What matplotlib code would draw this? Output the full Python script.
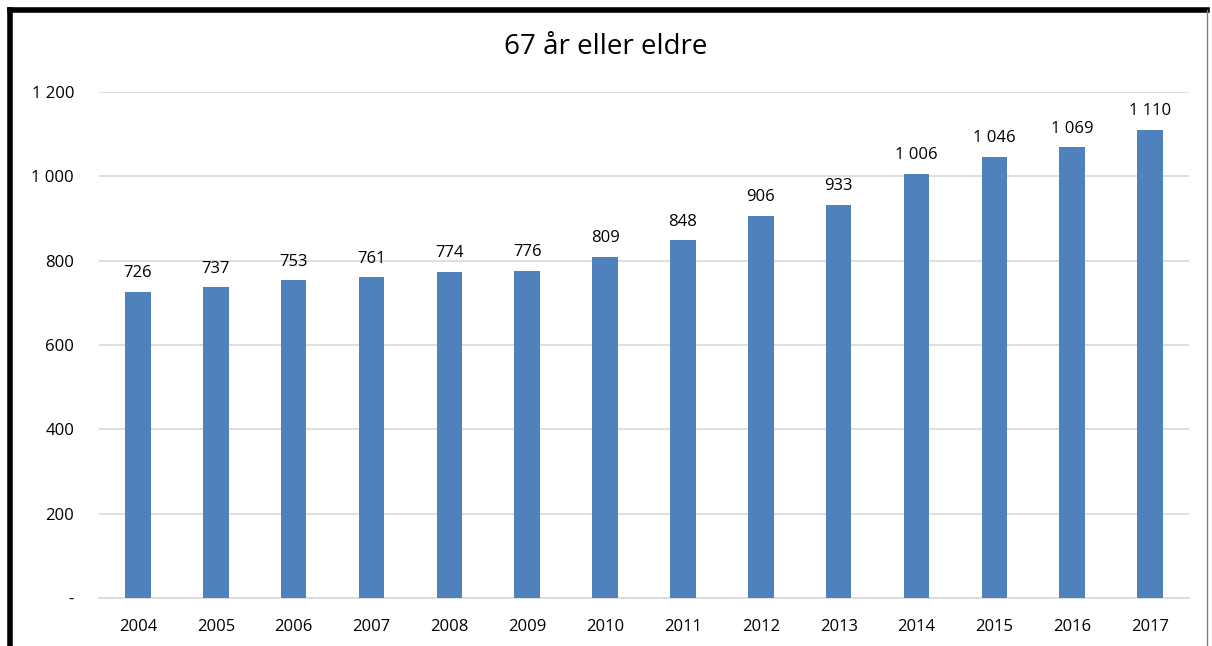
import numpy as np
import matplotlib.pyplot as plt
from matplotlib.lines import Line2D

years = ['2004', '2005', '2006', '2007', '2008', '2009', '2010',
         '2011', '2012', '2013', '2014', '2015', '2016', '2017']
values = [726, 737, 753, 761, 774, 776, 809, 848, 906, 933, 1006, 1046, 1069, 1110]
yticks = [0, 200, 400, 600, 800, 1000, 1200]
ytick_labels = ['-', '200', '400', '600', '800', '1 000', '1 200']

plt.rcParams['font.family'] = ['Open Sans', 'DejaVu Sans']

W, H = 1212, 646
fig = plt.figure(figsize=(W / 100, H / 100), dpi=100)
ax = fig.add_axes([99 / W, 1 - 598 / H, (1189 - 99) / W, (598 - 92) / H])

x = np.arange(len(years))
ax.bar(x, values, width=0.33, color='#4F81BD', zorder=3)
for xi, v in zip(x, values):
    ax.text(xi, v + 25, f'{v:,}'.replace(',', ' '), ha='center', va='bottom',
            fontsize=12, color='#000000', clip_on=False)

ax.set_xlim(-0.5, len(years) - 0.5)
ax.set_ylim(0, 1200)
ax.set_xticks(x)
ax.set_xticklabels(years, fontsize=12)
ax.set_yticks(yticks)
ax.set_yticklabels(ytick_labels, fontsize=12)
ax.tick_params(length=0, pad=18, axis='y')
ax.tick_params(length=0, pad=15, axis='x')
ax.grid(axis='y', color='#D9D9D9', linewidth=1.2, zorder=0)
for s in ['top', 'right', 'left']:
    ax.spines[s].set_visible(False)
ax.spines['bottom'].set_color('#D9D9D9')
ax.spines['bottom'].set_linewidth(1.2)

fig.text(0.5, 1 - 47 / H, '67 år eller eldre', ha='center', va='center', fontsize=20)

# frame around the chart
fig.add_artist(Line2D([9.5 / W, 1207 / W], [1 - 9.5 / H, 1 - 9.5 / H], color='black', linewidth=4, transform=fig.transFigure))
fig.add_artist(Line2D([9.5 / W, 9.5 / W], [0, 1 - 9.5 / H], color='black', linewidth=4, transform=fig.transFigure))
fig.add_artist(Line2D([1207 / W, 1207 / W], [0, 1 - 9.5 / H], color='#808080', linewidth=1, transform=fig.transFigure))

fig.savefig('out.png', dpi=100)
